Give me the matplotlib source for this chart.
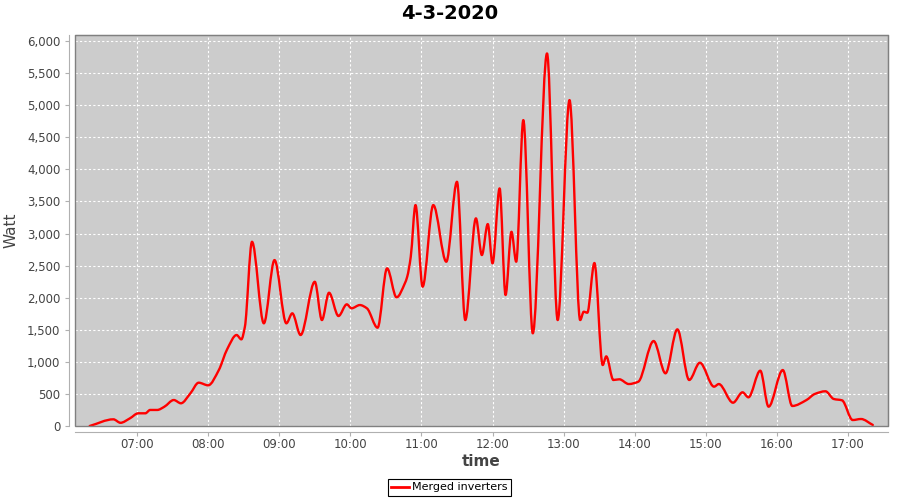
import datetime as dt
import numpy as np
import matplotlib
matplotlib.use("Agg")
import matplotlib.pyplot as plt
import matplotlib.dates as mdates
from matplotlib.path import Path
from matplotlib.patches import PathPatch, Rectangle
from matplotlib.lines import Line2D

title = "4-3-2020"
series_name = "Merged inverters"

times = [
    "06:20", "06:40", "06:46", "06:54", "07:01", "07:07", "07:11", "07:17",
    "07:23", "07:31", "07:37", "07:45", "07:52", "08:00", "08:09", "08:16",
    "08:24", "08:28", "08:31", "08:37", "08:47", "08:56",
    "09:06", "09:11", "09:18", "09:30", "09:36", "09:42",
    "09:50", "09:57", "10:01", "10:08", "10:14", "10:23", "10:31",
    "10:39", "10:46", "10:48", "10:51", "10:55", "11:01", "11:10",
    "11:21", "11:30", "11:37", "11:46", "11:51",
    "11:56", "12:00", "12:06", "12:11", "12:16", "12:20", "12:26",
    "12:34", "12:46", "12:55", "13:05",
    "13:14", "13:17", "13:20", "13:26", "13:33", "13:36", "13:42",
    "13:47", "13:55", "14:03", "14:16", "14:26", "14:36", "14:46", "14:55",
    "15:07", "15:11", "15:23", "15:31", "15:36", "15:46", "15:53",
    "16:05", "16:13", "16:25", "16:32", "16:41", "16:48", "16:55", "17:04",
    "17:11", "17:21",
]
watts = [
    0, 104, 50, 120, 198, 198, 250, 250,
    300, 405, 354, 509, 675, 634, 872, 1195,
    1418, 1350, 1547, 2871, 1600, 2586,
    1600, 1756, 1418, 2248, 1651, 2077,
    1714, 1896, 1834, 1885, 1834, 1532, 2457,
    2005, 2223, 2326, 2638, 3443, 2171, 3443,
    2560, 3806, 1651, 3236, 2664,
    3147, 2535, 3703, 2041, 3027, 2560, 4767,
    1444, 5806, 1651, 5079,
    1651, 1781, 1765, 2540, 950, 1085, 717,
    728, 654, 690, 1324, 821, 1506, 717, 986,
    613, 654, 363, 525, 447, 862, 301,
    872, 312, 405, 499, 541, 421, 400, 93,
    109, 16,
]
y_ticks = [0, 500, 1000, 1500, 2000, 2500, 3000, 3500, 4000, 4500, 5000, 5500, 6000]
x_ticks = ["07:00", "08:00", "09:00", "10:00", "11:00", "12:00",
           "13:00", "14:00", "15:00", "16:00", "17:00"]

day = dt.date(2020, 3, 4)


def to_num(hhmm):
    h, m = hhmm.split(":")
    return mdates.date2num(dt.datetime.combine(day, dt.time(int(h), int(m))))


def spline_path(x, y):
    # monotone cubic (pchip style) through the points, drawn as bezier segments
    x = np.asarray(x, float)
    y = np.asarray(y, float)
    dx = np.diff(x)
    d = np.diff(y) / dx
    m = np.zeros_like(y)
    for i in range(1, len(y) - 1):
        if d[i - 1] * d[i] > 0:
            w1 = 2 * dx[i] + dx[i - 1]
            w2 = dx[i] + 2 * dx[i - 1]
            m[i] = (w1 + w2) / (w1 / d[i - 1] + w2 / d[i])
    m[0] = d[0]
    m[-1] = d[-1]
    verts = [(x[0], y[0])]
    codes = [Path.MOVETO]
    for i in range(len(x) - 1):
        h = dx[i] / 3
        verts += [(x[i] + h, y[i] + m[i] * h),
                  (x[i + 1] - h, y[i + 1] - m[i + 1] * h),
                  (x[i + 1], y[i + 1])]
        codes += [Path.CURVE4] * 3
    return Path(verts, codes)


fig = plt.figure(figsize=(9, 5), dpi=100)
ax = fig.add_axes([75 / 900, 1 - 426 / 500, 813 / 900, 391 / 500])
ax.set_facecolor("#cccccc")

xs = [to_num(t) for t in times]
line = PathPatch(spline_path(xs, watts), facecolor="none", edgecolor="#ff0000",
                 linewidth=1.7, capstyle="round", joinstyle="round", zorder=3)
ax.add_patch(line)

ax.set_xlim(to_num("07:00") - 62 / 71 / 24, to_num("17:00") + 40 / 71 / 24)
ax.set_ylim(0, 6000 + 6 / 385 * 6000)

ax.set_xticks([to_num(t) for t in x_ticks])
ax.set_xticklabels(x_ticks)
ax.set_yticks(y_ticks)
ax.set_yticklabels([f"{v:,}" for v in y_ticks])

ax.grid(True, color="white", linestyle=(0, (2, 2)), linewidth=0.8)
ax.set_axisbelow(True)

for side in ["top", "right"]:
    ax.spines[side].set_color("#808080")
for side in ["left", "bottom"]:
    ax.spines[side].set_position(("outward", 4))
    ax.spines[side].set_color("#b0b0b0")
ax.add_patch(Rectangle((0, 0), 1, 1, transform=ax.transAxes, fill=False,
                       edgecolor="#808080", linewidth=1, clip_on=False, zorder=4))

ax.tick_params(axis="both", colors="#b0b0b0", labelcolor="#444444",
               labelsize=8.5, length=3, width=0.8)
ax.tick_params(axis="x", pad=2)

ax.set_xlabel("time", fontsize=11, fontweight="bold", color="#444444", labelpad=2)
ax.set_ylabel("Watt", fontsize=11, color="#444444", labelpad=6)
fig.suptitle(title, x=449.5 / 900, y=1 - 4 / 500, va="top",
             fontsize=14, fontweight="bold")

handle = Line2D([], [], color="#ff0000", linewidth=2)
leg = fig.legend([handle], [series_name], loc="center",
                 bbox_to_anchor=(449.5 / 900, 1 - 487.5 / 500),
                 fancybox=False, framealpha=1, edgecolor="black",
                 fontsize=8, handlelength=1.6, handletextpad=0.3,
                 borderpad=0.3, borderaxespad=0)
leg.get_frame().set_linewidth(0.8)

fig.savefig("out.png", dpi=100)
